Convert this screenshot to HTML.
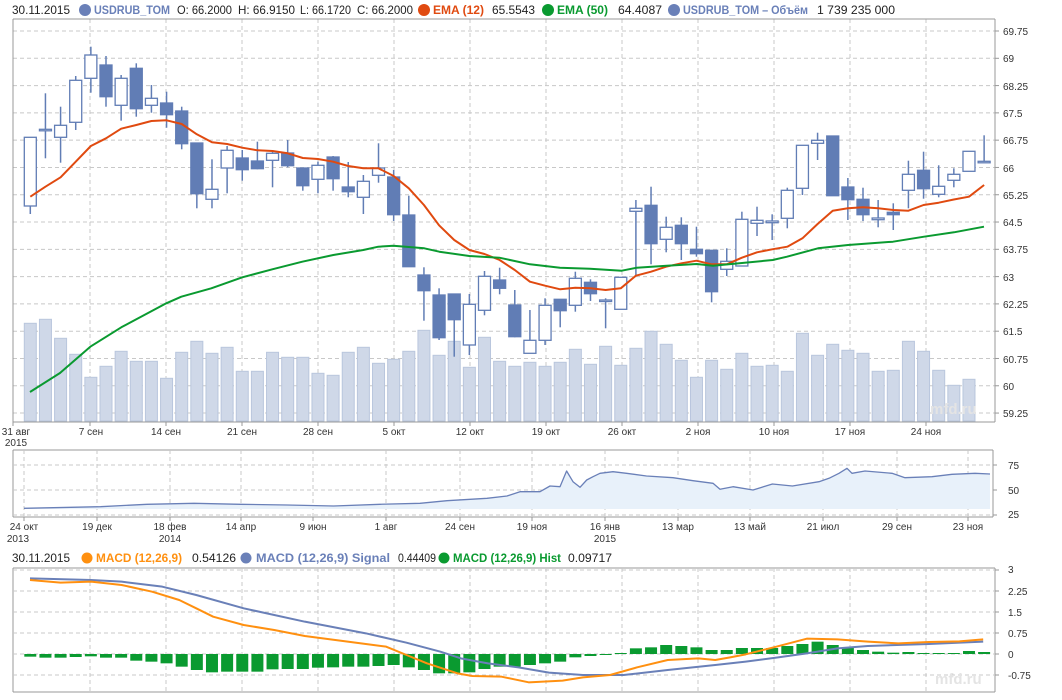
<!DOCTYPE html>
<html><head><meta charset="utf-8"><style>
html,body{margin:0;padding:0;background:#fff;}
svg{display:block;font-family:"Liberation Sans",sans-serif;}
.t{font-size:12px;fill:#222;}
.ax{font-size:10px;fill:#333;}
</style></head><body>
<svg id="s" width="1062" height="700" viewBox="0 0 1062 700" xmlns="http://www.w3.org/2000/svg">
<g id="g"></g>
<g>
<text class="t" x="12" y="14" textLength="58" lengthAdjust="spacingAndGlyphs">30.11.2015</text>
<circle cx="85" cy="10" r="6" fill="#6a80b8"/>
<text class="t" x="94" y="14" font-weight="bold" style="fill:#6a80b8" textLength="76" lengthAdjust="spacingAndGlyphs">USDRUB_TOM</text>
<text class="t" x="177" y="14" textLength="55" lengthAdjust="spacingAndGlyphs">O: 66.2000</text>
<text class="t" x="238" y="14" textLength="57" lengthAdjust="spacingAndGlyphs">H: 66.9150</text>
<text class="t" x="300" y="14" textLength="51" lengthAdjust="spacingAndGlyphs">L: 66.1720</text>
<text class="t" x="357" y="14" textLength="56" lengthAdjust="spacingAndGlyphs">C: 66.2000</text>
<circle cx="424" cy="10" r="6" fill="#e04a10"/>
<text class="t" x="433" y="14" font-weight="bold" style="fill:#e04a10" textLength="51" lengthAdjust="spacingAndGlyphs">EMA (12)</text>
<text class="t" x="492" y="14" textLength="43" lengthAdjust="spacingAndGlyphs">65.5543</text>
<circle cx="548" cy="10" r="6" fill="#0a9a30"/>
<text class="t" x="557" y="14" font-weight="bold" style="fill:#0a9a30" textLength="51" lengthAdjust="spacingAndGlyphs">EMA (50)</text>
<text class="t" x="618" y="14" textLength="44" lengthAdjust="spacingAndGlyphs">64.4087</text>
<circle cx="674" cy="10" r="6" fill="#6a80b8"/>
<text class="t" x="683" y="14" font-weight="bold" style="fill:#6a80b8" textLength="125" lengthAdjust="spacingAndGlyphs">USDRUB_TOM – Объём</text>
<text class="t" x="817" y="14" textLength="78" lengthAdjust="spacingAndGlyphs">1 739 235 000</text>
</g>
<g class="ax">
<text x="1003" y="35">69.75</text><text x="1003" y="62">69</text><text x="1003" y="90">68.25</text><text x="1003" y="117">67.5</text><text x="1003" y="144">66.75</text><text x="1003" y="172">66</text><text x="1003" y="199">65.25</text><text x="1003" y="226">64.5</text><text x="1003" y="253">63.75</text><text x="1003" y="281">63</text><text x="1003" y="308">62.25</text><text x="1003" y="335">61.5</text><text x="1003" y="363">60.75</text><text x="1003" y="390">60</text><text x="1003" y="417">59.25</text>
</g>
<g class="ax" text-anchor="middle">
<text x="16" y="435">31 авг</text><text x="16" y="446">2015</text>
<text x="91" y="435">7 сен</text><text x="166" y="435">14 сен</text><text x="242" y="435">21 сен</text><text x="318" y="435">28 сен</text><text x="394" y="435">5 окт</text><text x="470" y="435">12 окт</text><text x="546" y="435">19 окт</text><text x="622" y="435">26 окт</text><text x="698" y="435">2 ноя</text><text x="774" y="435">10 ноя</text><text x="850" y="435">17 ноя</text><text x="926" y="435">24 ноя</text>
</g>
<text x="930" y="414" font-size="15" font-weight="bold" fill="#e4e4e4">mfd.ru</text>
<g class="ax">
<text x="1008" y="469">75</text><text x="1008" y="494">50</text><text x="1008" y="518">25</text>
</g>
<g class="ax" text-anchor="middle">
<text x="24" y="530">24 окт</text><text x="18" y="542">2013</text>
<text x="97" y="530">19 дек</text><text x="170" y="530">18 фев</text><text x="170" y="542">2014</text>
<text x="241" y="530">14 апр</text><text x="313" y="530">9 июн</text><text x="386" y="530">1 авг</text><text x="460" y="530">24 сен</text><text x="532" y="530">19 ноя</text><text x="605" y="530">16 янв</text><text x="605" y="542">2015</text><text x="678" y="530">13 мар</text><text x="750" y="530">13 май</text><text x="823" y="530">21 июл</text><text x="897" y="530">29 сен</text><text x="968" y="530">23 ноя</text>
</g>
<text class="t" x="12" y="562" textLength="58" lengthAdjust="spacingAndGlyphs">30.11.2015</text>
<circle cx="87" cy="558" r="5.5" fill="#ff9010"/>
<text class="t" x="96" y="562" font-weight="bold" style="fill:#ff9010" textLength="86" lengthAdjust="spacingAndGlyphs">MACD (12,26,9)</text>
<text class="t" x="192" y="562" textLength="44" lengthAdjust="spacingAndGlyphs">0.54126</text>
<circle cx="246" cy="558" r="5.5" fill="#6a80b8"/>
<text class="t" x="256" y="562" font-weight="bold" style="fill:#6a80b8" textLength="134" lengthAdjust="spacingAndGlyphs">MACD (12,26,9) Signal</text>
<text class="t" x="398" y="562" textLength="38" lengthAdjust="spacingAndGlyphs">0.44409</text>
<circle cx="444" cy="558" r="5.5" fill="#0a9a30"/>
<text class="t" x="453" y="562" font-weight="bold" style="fill:#0a9a30" textLength="108" lengthAdjust="spacingAndGlyphs">MACD (12,26,9) Hist</text>
<text class="t" x="568" y="562" textLength="44" lengthAdjust="spacingAndGlyphs">0.09717</text>
<g class="ax">
<text x="1008" y="573">3</text><text x="1008" y="595">2.25</text><text x="1008" y="616">1.5</text><text x="1008" y="637">0.75</text><text x="1008" y="658">0</text><text x="1008" y="679">-0.75</text>
</g>
<text x="935" y="684" font-size="15" font-weight="bold" fill="#e4e4e4">mfd.ru</text>
</svg>
<script>
(function(){
var g=document.getElementById('g'),h='';
function L(x1,y1,x2,y2,c,w,d){h+='<line x1="'+x1+'" y1="'+y1+'" x2="'+x2+'" y2="'+y2+'" stroke="'+c+'" stroke-width="'+(w||1)+'"'+(d?' stroke-dasharray="'+d+'"':'')+'/>';}
function P(pts,c,w){h+='<polyline fill="none" stroke="'+c+'" stroke-width="'+w+'" stroke-linejoin="round" points="'+pts.map(function(p){return p[0]+','+p[1]}).join(' ')+'"/>';}
var GC='#c8c8c8',DA='4,3';
for(var k=0;k<15;k++){var y=31+27.29*k;L(13,y,995,y,GC,1,DA);L(995,y,999,y,'#999');}
for(var k=1;k<=12;k++){var x=14+76*k;L(x,19,x,422,GC,1,DA);L(x,422,x,426,'#999');}
L(13,19,995,19,'#999');L(13,19,13,426,'#999');L(995,19,995,422,'#999');L(13,422,995,422,'#999');
var vol=[323.3,319.3,338.3,354.3,377.3,366.3,351.3,361.3,361.3,378.3,352.3,341.3,353.3,347.3,371.3,371.3,352.3,357.3,357.3,373.3,375.3,352.3,347.3,363.3,359.3,351.3,330.3,355.3,341.3,367.3,337.3,361.3,366.3,362.3,366.3,362.3,349.3,364.3,346.3,365.3,348.3,331.3,344.3,360.3,377.3,360.3,369.3,353.3,366.3,365.3,371.3,333.3,355.3,344.3,350.3,353.3,371.3,370.3,341.3,351.3,370.3,385.3,379.3];
function X(i){return 30.3+15.14*i;}
for(var i=0;i<vol.length;i++){h+='<rect x="'+(X(i)-6)+'" y="'+vol[i]+'" width="12" height="'+(421-vol[i])+'" fill="#cfd8e8" stroke="#b9c6dd" stroke-width="1"/>';}
var C=[[206,137.3,137.3,214],[129.3,129.3,93.3,158.3],[137.3,125.3,106.7,162.7],[122.3,80.3,76,130],[78.3,55,46.7,92.7],[65,96.7,56,106.7],[105.3,78.3,75,120.7],[68.3,108.7,63.3,116.7],[105.3,98.3,85,112.7],[103,114.7,91.7,127.7],[111,143.7,106.7,149.3],[143,193.7,143,208.3],[199.3,189.3,159.3,208.3],[168,150.3,146,193.3],[158,169.7,150,180.7],[161,168.7,141.7,169.3],[160.3,153.3,150,187.3],[153,165.7,140,167.3],[168,185.7,168,190.7],[179.3,165.3,161.7,193.3],[157,178.7,156,190.7],[187,191.7,162,197.3],[197.3,181.3,175,214],[175.3,168,143.3,182.7],[177,214.7,170,221],[215,266.7,195.7,266.7],[275,290.7,267.3,320.7],[295,337.7,288.3,340],[294,319.7,294,356.7],[345,304.3,294,355],[310.3,276.3,271,315.3],[280,288.3,267.7,294.3],[305,336.7,290,337.3],[353.3,340.3,310,353.3],[340.3,305.3,298.3,345],[299.3,310.7,299.3,327.3],[305.3,278.3,271.7,311.7],[282.3,293.7,279.3,301],[300,300,298.3,328.3],[309.3,277.3,277.3,309.3],[211.3,208.3,200,275],[205.3,243.7,186.7,264.3],[239.3,227.3,216.7,252.3],[225.3,243.7,217.3,260],[249.3,253.7,226.7,256.7],[250.3,291.7,250.3,302.3],[269.3,261.3,248.3,276],[266,219.3,211.7,266],[223.3,220.3,206.7,236],[221,222.7,214.3,240],[218.3,190.3,187.7,228.3],[188.3,145.3,145.3,195],[143.3,140.3,132.7,160],[136,195.7,136,195.7],[187,199.7,178,220],[199.3,214.7,187.7,221],[218,219.7,200,227.3],[212.3,214.7,203.3,230],[190.3,174.3,160.7,208.3],[170.3,188.7,151.7,198.7],[194.3,186.3,165.3,197.3],[180.3,174.3,168.3,187.3],[171.3,151.3,151.3,171.3],[161.3,161.3,135.3,162.7]];
var CB='#617db5';
for(var i=0;i<C.length;i++){var c=C[i],x=X(i),bt=Math.min(c[0],c[1]),bb=Math.max(c[0],c[1]),up=c[1]<c[0];
L(x,c[2],x,bt,CB,1.5);L(x,bb,x,c[3],CB,1.5);
var hh=Math.max(bb-bt,1.5);
h+='<rect x="'+(x-6)+'" y="'+bt+'" width="12" height="'+hh+'" fill="'+(up||bb-bt<2?'#fff':CB)+'" stroke="'+CB+'" stroke-width="1.3"/>';}
var e12=[196.7,186.7,177.3,161.7,146,138.3,128.7,125,121,120.3,124,134.3,142.3,144,147.7,150.3,151,153.3,158,159,161.7,166,168.3,168.3,176,188.3,205,225.3,240,250,254,260,270,281.7,285.7,289.3,287.7,288.3,290,288.3,275.7,271.7,266.7,263.3,260.7,264.3,264.3,257.7,252.3,249.3,246.7,238.3,224,210.7,208.3,207.3,208.3,210,210.7,205,202.7,199.5,196.7,189.3,185];
var pts=[];for(var i=0;i<64;i++)pts.push([X(i),e12[i]]);pts[63][1]=185;
P(pts,'#e04a10',2);
P([[30,392],[60,373],[90.3,346.7],[121.3,327.3],[166.3,303.3],[181.3,296.7],[211.3,288.3],[242.3,277.3],[272.3,269.3],[302.3,261.7],[333.3,255],[363.3,250],[378.3,246.7],[393.3,245.7],[424.3,248.3],[439.3,251.7],[469.3,256],[499.3,257.7],[530,264.3],[560,267.7],[590,268.7],[621.7,270.7],[636.7,267.7],[666.7,265.7],[696.7,264],[713,265.7],[742,263],[772.7,260],[787,256.7],[818,248.3],[848,245],[893,241.7],[924,236.7],[954,232.3],[984,226.7]],'#0a9a30',2);
L(13,450,993,450,'#999');L(13,450,13,517,'#999');L(993,450,993,517,'#999');L(13,517,993,517,'#999');
[465,490,515].forEach(function(y){L(13,y,993,y,GC,1,DA);L(993,y,997,y,'#999');});
[24,97,170,241,313,386,460,532,605,678,750,823,897,968].forEach(function(x){L(x,450,x,517,GC,1,DA);L(x,517,x,521,'#999');});
var nv=[[24,508.3],[100.6,506.7],[147,504.3],[194,503.3],[240,504.3],[287,505],[333.6,506],[380,504.3],[420,503.3],[447,500.7],[487,498.3],[507,496],[520,491.7],[540,491.7],[550,486],[560,486.7],[566.6,471],[573,481.7],[580,487.3],[586.7,480],[593,476.7],[600,473.3],[613,471.7],[626.5,473.3],[646.5,476],[673,477.7],[693,480.7],[713,483.3],[720,489.3],[733,486.7],[753,490],[772.4,484],[792.4,486],[819,481.7],[829,478.3],[839,473.3],[847,468.3],[852,473.3],[865,471],[892,473.3],[905,477.7],[932,476.7],[952,474.3],[975,473.3],[990,474]];
h+='<polygon fill="#e8f1fa" points="24,509 '+nv.map(function(p){return p[0]+','+p[1]}).join(' ')+' 990,509"/>';
P(nv,'#6a80b8',1.3);
L(13,568,995,568,'#999');L(13,568,13,692,'#999');L(995,568,995,692,'#999');L(13,692,995,692,'#999');
[570,591,612,633,654,675].forEach(function(y){L(13,y,995,y,GC,1,DA);L(995,y,999,y,'#999');});
for(var k=1;k<=12;k++){var x=14+76*k;L(x,568,x,692,GC,1,DA);}
var hz=[290,293,293,291,289,293,293,302,305,310,320,330,337,335,335,335,328,327,327,323,322,320,320,318,315,322,330,340,340,337,327,320,320,315,310,305,292,288,285,279,265,262,255,258,262,270,270,264,264,264,258,252,245,255,262,270,275,278,276,279,279,279,273,276];
for(var i=0;i<64;i++){var y=560+hz[i]/3,z=654;h+='<rect x="'+(X(i)-6)+'" y="'+Math.min(y,z)+'" width="12" height="'+Math.max(Math.abs(y-z),1)+'" fill="#0a9a30"/>';}
function MX(a){return a.map(function(p){return [30+(p[0]-45)/1.474,560+p[1]/3];});}
P(MX([[45,55],[135,60],[180,65],[240,80],[290,105],[360,145],[450,185],[540,220],[600,248],[650,275],[680,295],[720,310],[765,322],[810,338],[860,345],[920,345],[985,330],[1055,315],[1100,305],[1145,293],[1190,280],[1235,265],[1280,258],[1370,252],[1450,245]]),'#6a80b8',2);
P(MX([[45,60],[90,68],[135,65],[180,75],[225,95],[265,120],[290,145],[315,170],[360,195],[405,210],[450,228],[495,240],[540,252],[570,260],[600,285],[630,310],[675,340],[697,348],[740,350],[780,367],[830,362],[860,352],[900,345],[940,322],[985,300],[1030,295],[1055,300],[1077,292],[1100,283],[1145,260],[1190,236],[1235,238],[1280,245],[1325,250],[1370,246],[1415,244],[1450,238]]),'#ff9010',2);
g.innerHTML=h;
})();
</script>
</body></html>
